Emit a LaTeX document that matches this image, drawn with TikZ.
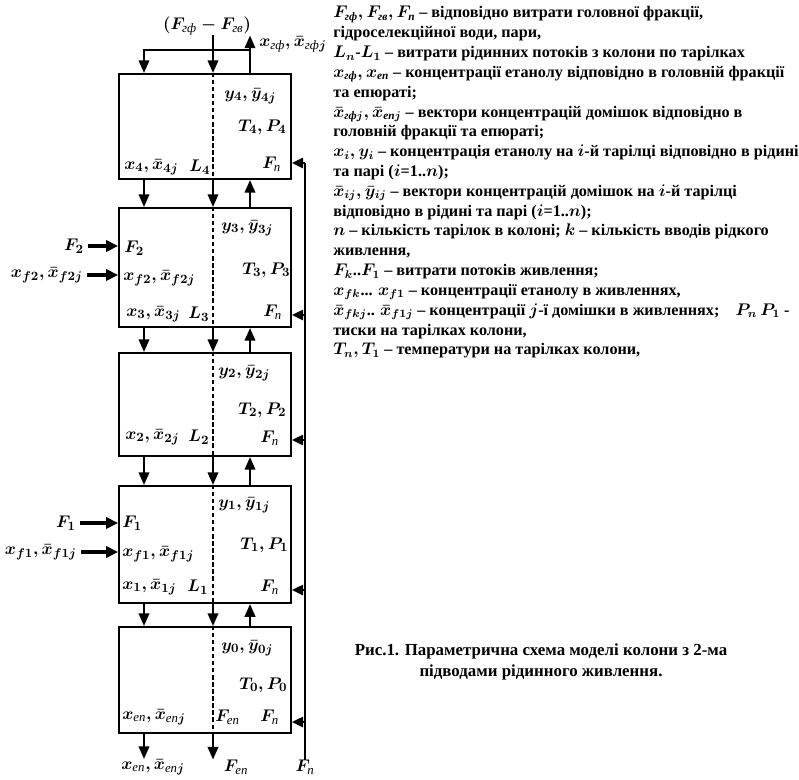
\documentclass[tikz,border=0pt]{standalone}
\usepackage{fontspec}
\setmainfont{Liberation Serif}
\usepackage{amsmath}
\usetikzlibrary{positioning, arrows.meta, calc}
\newcommand{\cyr}[1]{\text{\itshape #1}}

\begin{document}
\begin{tikzpicture}[
    x=0.025cm, y=-0.025cm,
    plate/.style={draw=black, line width=1.3pt, minimum width=4.3cm, inner sep=0pt},
    flow/.style={-{Triangle[length=3.2mm, width=2.6mm]}, line width=1.8pt},
    feed/.style={-{Triangle[length=3mm, width=2.8mm]}, line width=2.4pt, shorten <=1mm},
    retflow/.style={-{Triangle[length=2.8mm, width=2.6mm]}, line width=1.2pt},
    retline/.style={line width=1pt},
    liquid/.style={line width=1.1pt, dash pattern=on 3pt off 2pt},
    lab/.style={font=\fontsize{13}{15}\selectfont\boldmath, inner sep=0pt},
    legend/.style={font=\fontsize{11.5}{14.1}\selectfont\bfseries\boldmath, align=left, inner sep=0pt},
    caption/.style={font=\fontsize{12}{15}\selectfont\bfseries, align=center, inner sep=0pt}
]
\useasboundingbox (0,0) rectangle (799,779);

% Column positions
\coordinate (lx) at (144,0);
\coordinate (mx) at (213,0);
\coordinate (rx) at (250,0);
\coordinate (ret) at (305,0);

% Plates of the column, top to bottom
\node[plate, minimum height=2.625cm] (b4) at (205,126.5) {};
\node[plate, minimum height=2.975cm] (b3) at (205,267.5) {};
\node[plate, minimum height=2.575cm] (b2) at (205,404.5) {};
\node[plate, minimum height=2.925cm] (b1) at (205,544.5) {};
\node[plate, minimum height=2.65cm] (b0) at (205,680) {};

% Liquid path through the plates
\draw[liquid] (mx |- b4.north) -- (mx |- b4.south);
\draw[liquid] (mx |- b3.north) -- (mx |- b3.south);
\draw[liquid] (mx |- b2.north) -- (mx |- b2.south);
\draw[liquid] (mx |- b1.north) -- (mx |- b1.south);
\draw[liquid] (mx |- b0.north) -- (mx |- b0.south);

% Flows between plates
\draw[flow] (lx |- b4.south) -- (lx |- b3.north);
\draw[flow] (mx |- b4.south) -- (mx |- b3.north);
\draw[flow] (rx |- b3.north) -- (rx |- b4.south);
\draw[flow] (lx |- b3.south) -- (lx |- b2.north);
\draw[flow] (mx |- b3.south) -- (mx |- b2.north);
\draw[flow] (rx |- b2.north) -- (rx |- b3.south);
\draw[flow] (lx |- b2.south) -- (lx |- b1.north);
\draw[flow] (mx |- b2.south) -- (mx |- b1.north);
\draw[flow] (rx |- b1.north) -- (rx |- b2.south);
\draw[flow] (lx |- b1.south) -- (lx |- b0.north);
\draw[flow] (mx |- b1.south) -- (mx |- b0.north);
\draw[flow] (rx |- b0.north) -- (rx |- b1.south);

% Head of the column
\node[lab] (topflow) at (207,26) {$(F_{\cyr{гф}} - F_{\cyr{гв}})$};
\node[lab, anchor=west] (topx) at (259,44) {$x_{\cyr{гф}}, \bar{x}_{\cyr{гф}j}$};
\coordinate (reflux) at (0,50);
\draw[flow] (rx |- reflux) -| (lx |- b4.north);
\draw[flow] (rx |- b4.north) -- (rx |- topflow.south);
\draw[flow] (mx |- topflow.south) -- (mx |- b4.north);

% Bottom of the column
\node[lab] (xepout) at (153,767) {$x_{\cyr{еп}}, \bar{x}_{\cyr{еп}j}$};
\node[lab] (Fepout) at (236,767) {$F_{\cyr{еп}}$};
\node[lab] (Fpout) at (305,767) {$F_{\cyr{п}}$};
\draw[flow] (lx |- b0.south) -- (lx |- xepout.north);
\draw[flow] (mx |- b0.south) -- (mx |- Fepout.north);

% Steam line
\coordinate (r4) at (0,163);
\coordinate (r3) at (0,315);
\coordinate (r2) at (0,440);
\coordinate (r1) at (0,590);
\coordinate (r0) at (0,722);
\draw[retline] (Fpout.north) -- (ret |- r4);
\draw[retflow] (ret |- r4) -- (b4.east |- r4);
\draw[retflow] (ret |- r3) -- (b3.east |- r3);
\draw[retflow] (ret |- r2) -- (b2.east |- r2);
\draw[retflow] (ret |- r1) -- (b1.east |- r1);
\draw[retflow] (ret |- r0) -- (b0.east |- r0);

% Feeds
\node[lab] (F2out) at (74,246) {$F_2$};
\node[lab, anchor=east] (xf2out) at (83,275) {$x_{f2}, \bar{x}_{f2j}$};
\node[lab] (F1out) at (66,523) {$F_1$};
\node[lab, anchor=east] (xf1out) at (77,552) {$x_{f1}, \bar{x}_{f1j}$};
\draw[feed] (F2out.east) -- (b3.west |- F2out.east);
\draw[feed] (xf2out.east) -- (b3.west |- xf2out.east);
\draw[feed] (F1out.east) -- (b1.west |- F1out.east);
\draw[feed] (xf1out.east) -- (b1.west |- xf1out.east);

% Plate 4
\node[lab, anchor=west] (y4) at (224,96) {$y_4, \bar{y}_{4j}$};
\node[lab, anchor=west] (tp4) at (238,127) {$T_4, P_4$};
\node[lab, anchor=west] (x4) at (124,167) {$x_4, \bar{x}_{4j}$};
\node[lab, anchor=west] (l4) at (189,167) {$L_4$};
\node[lab, anchor=west] (fp4) at (262,164) {$F_{\cyr{п}}$};

% Plate 3
\node[lab, anchor=west] (y3) at (221,228) {$y_3, \bar{y}_{3j}$};
\node[lab, anchor=west] (f2in) at (124,248) {$F_2$};
\node[lab, anchor=west] (xf2in) at (123,278) {$x_{f2}, \bar{x}_{f2j}$};
\node[lab, anchor=west] (tp3) at (242,270) {$T_3, P_3$};
\node[lab, anchor=west] (x3) at (126,314) {$x_3, \bar{x}_{3j}$};
\node[lab, anchor=west] (l3) at (188,314) {$L_3$};
\node[lab, anchor=west] (fp3) at (263,312) {$F_{\cyr{п}}$};

% Plate 2
\node[lab, anchor=west] (y2) at (218,373) {$y_2, \bar{y}_{2j}$};
\node[lab, anchor=west] (tp2) at (238,410) {$T_2, P_2$};
\node[lab, anchor=west] (x2) at (125,437) {$x_2, \bar{x}_{2j}$};
\node[lab, anchor=west] (l2) at (188,437) {$L_2$};
\node[lab, anchor=west] (fp2) at (260,438) {$F_{\cyr{п}}$};

% Plate 1
\node[lab, anchor=west] (y1) at (218,505) {$y_1, \bar{y}_{1j}$};
\node[lab, anchor=west] (f1in) at (122,523) {$F_1$};
\node[lab, anchor=west] (xf1in) at (122,554) {$x_{f1}, \bar{x}_{f1j}$};
\node[lab, anchor=west] (tp1) at (240,545) {$T_1, P_1$};
\node[lab, anchor=west] (x1) at (122,587) {$x_1, \bar{x}_{1j}$};
\node[lab, anchor=west] (l1) at (187,587) {$L_1$};
\node[lab, anchor=west] (fp1) at (260,587) {$F_{\cyr{п}}$};

% Plate 0
\node[lab, anchor=west] (y0) at (221,648) {$y_0, \bar{y}_{0j}$};
\node[lab, anchor=west] (tp0) at (239,685) {$T_0, P_0$};
\node[lab, anchor=west] (xep) at (122,717) {$x_{\cyr{еп}}, \bar{x}_{\cyr{еп}j}$};
\node[lab, anchor=west] (fep) at (215,717) {$F_{\cyr{еп}}$};
\node[lab, anchor=west] (fp0) at (260,717) {$F_{\cyr{п}}$};

% Legend
\node[legend, anchor=north west] (legend) at (333,6) {%
$F_{\cyr{гф}}, F_{\cyr{гв}}, F_{\cyr{п}}$ -- відповідно витрати головної фракції,\\
гідроселекційної води, пари,\\
$L_n$-$L_1$ -- витрати рідинних потоків з колони по тарілках\\
$x_{\cyr{гф}}, x_{\cyr{еп}}$ -- концентрації етанолу відповідно в головній фракції\\
та епюраті;\\
$\bar{x}_{\cyr{гф}j}, \bar{x}_{\cyr{еп}j}$ -- вектори концентрацій домішок відповідно в\\
головній фракції та епюраті;\\
$x_i, y_i$ -- концентрація етанолу на $i$-й тарілці відповідно в рідині\\
та парі ($i$=1..$n$);\\
$\bar{x}_{ij}, \bar{y}_{ij}$ -- вектори концентрацій домішок на $i$-й тарілці\\
відповідно в рідині та парі ($i$=1..$n$);\\
$n$ -- кількість тарілок в колоні; $k$ -- кількість вводів рідкого\\
живлення,\\
$F_k$..$F_1$ -- витрати потоків живлення;\\
$x_{fk}$... $x_{f1}$ -- концентрації етанолу в живленнях,\\
$\bar{x}_{fkj}$.. $\bar{x}_{f1j}$ -- концентрації $j$-ї домішки в живленнях;\quad $P_n\,P_1$ -\\
тиски на тарілках колони,\\
$T_n, T_1$ -- температури на тарілках колони,};

% Caption
\node[caption] (caption) at (541,662) {Рис.1. Параметрична схема моделі колони з 2-ма\\підводами рідинного живлення.};

\end{tikzpicture}
\end{document}
